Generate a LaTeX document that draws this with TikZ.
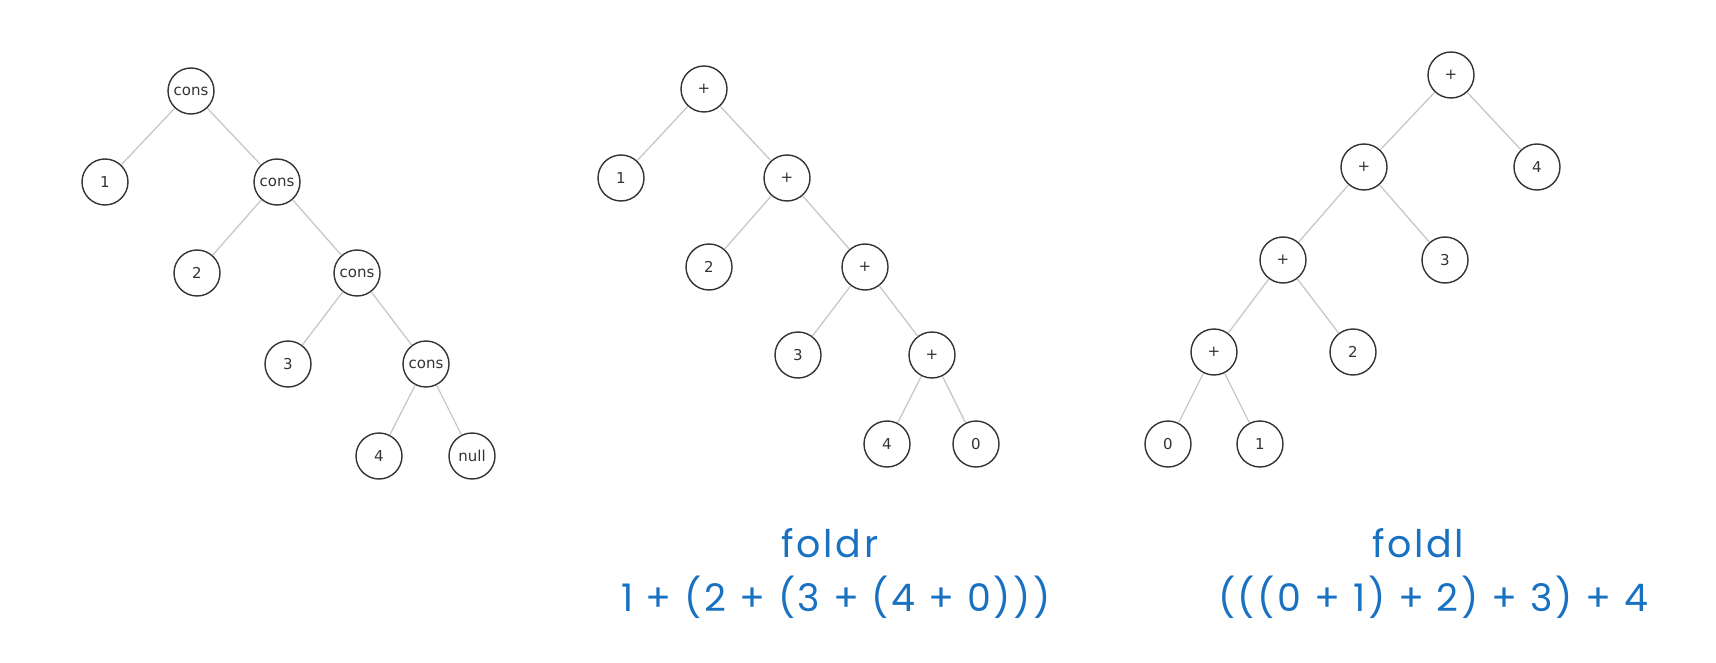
\documentclass[tikz,border=0pt]{standalone}
\usepackage{fontspec}
\newfontfamily\nodefont{DejaVu Sans}
\newfontfamily\handfont[LetterSpace=7]{Poppins}
\definecolor{hand}{RGB}{25,113,194}
\definecolor{edgegray}{RGB}{200,200,200}
\definecolor{ringgray}{RGB}{51,51,51}
\begin{document}
\begin{tikzpicture}[x=1pt,y=-1pt,
  tn/.style={circle,draw=ringgray,line width=1.4pt,minimum size=46pt,inner sep=0pt,
    font=\nodefont\fontsize{15}{17}\selectfont,text=ringgray},
  ed/.style={draw=edgegray,line width=1.3pt},
  captext/.style={text=hand,font=\handfont\fontsize{38}{46}\selectfont,align=center}]
\useasboundingbox (0,0) rectangle (1716,663);
% tree 1
\node[tn] (a0) at (191,91) {cons};
\node[tn] (a1) at (105,182) {1};
\node[tn] (a2) at (277,182) {cons};
\node[tn] (a3) at (197,273) {2};
\node[tn] (a4) at (357,273) {cons};
\node[tn] (a5) at (288,364) {3};
\node[tn] (a6) at (426,364) {cons};
\node[tn] (a7) at (379,456) {4};
\node[tn] (a8) at (472,456) {null};
\draw[ed] (a0)--(a1) (a0)--(a2) (a2)--(a3) (a2)--(a4) (a4)--(a5) (a4)--(a6) (a6)--(a7) (a6)--(a8);
% tree 2
\node[tn] (b0) at (704,89) {+};
\node[tn] (b1) at (621,178) {1};
\node[tn] (b2) at (787,178) {+};
\node[tn] (b3) at (709,267) {2};
\node[tn] (b4) at (865,267) {+};
\node[tn] (b5) at (798,355) {3};
\node[tn] (b6) at (932,355) {+};
\node[tn] (b7) at (887,444) {4};
\node[tn] (b8) at (976,444) {0};
\draw[ed] (b0)--(b1) (b0)--(b2) (b2)--(b3) (b2)--(b4) (b4)--(b5) (b4)--(b6) (b6)--(b7) (b6)--(b8);
% tree 3
\node[tn] (c0) at (1451,75) {+};
\node[tn] (c1) at (1364,167) {+};
\node[tn] (c2) at (1537,167) {4};
\node[tn] (c3) at (1283,260) {+};
\node[tn] (c4) at (1445,260) {3};
\node[tn] (c5) at (1214,352) {+};
\node[tn] (c6) at (1353,352) {2};
\node[tn] (c7) at (1168,444) {0};
\node[tn] (c8) at (1260,444) {1};
\draw[ed] (c0)--(c1) (c0)--(c2) (c1)--(c3) (c1)--(c4) (c3)--(c5) (c3)--(c6) (c5)--(c7) (c5)--(c8);
% captions
\node[captext] (fr) at (830,543) {foldr};
\node[captext] (frx) at (836,597) {1 + (2 + (3 + (4 + 0)))};
\node[captext] (fl) at (1418,543) {foldl};
\node[captext] (flx) at (1433,597) {(((0 + 1) + 2) + 3) + 4};
\end{tikzpicture}
\end{document}
